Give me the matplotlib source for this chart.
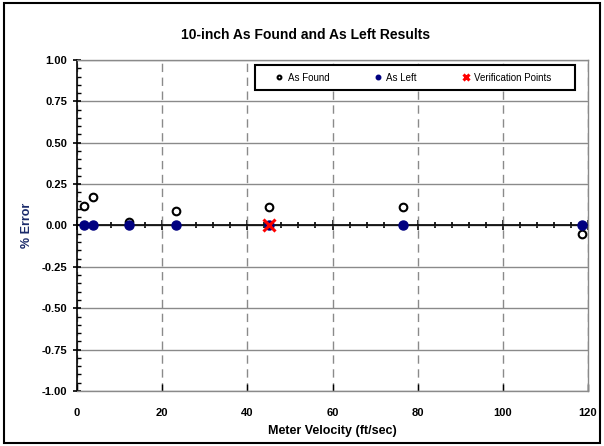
import matplotlib
matplotlib.use("Agg")
import matplotlib.pyplot as plt
from matplotlib.patches import Rectangle
from matplotlib.ticker import MultipleLocator, FormatStrFormatter, NullFormatter

plt.rcParams["font.family"] = ["Liberation Sans", "DejaVu Sans"]

# data
found_x = [1.6, 3.8, 12.3, 23.2, 45.1, 76.6, 118.6]
found_y = [0.12, 0.17, 0.02, 0.09, 0.11, 0.11, -0.05]
left_x = [1.6, 3.8, 12.3, 23.2, 45.1, 76.6, 118.6]
left_y = [0.0, 0.0, 0.0, 0.0, 0.0, 0.0, 0.0]
verif_x = [45.1]
verif_y = [0.0]

fig = plt.figure(figsize=(6.04, 4.46), dpi=100)
ax = fig.add_axes([0.1275, 0.1233, 0.8460, 0.7422])

# outer border of the chart
fig.patches.append(Rectangle((0.007, 0.007), 0.987, 0.986, transform=fig.transFigure,
                             fill=False, edgecolor="black", linewidth=1.5))

ax.set_xlim(0, 120)
ax.set_ylim(-1, 1)
ax.xaxis.set_major_locator(MultipleLocator(20))
ax.yaxis.set_major_locator(MultipleLocator(0.25))
ax.yaxis.set_minor_locator(MultipleLocator(0.05))
ax.yaxis.set_major_formatter(FormatStrFormatter("%.2f"))

ax.grid(axis="y", which="major", color="#8a8a8a", linewidth=1.0, linestyle="-")
ax.grid(axis="x", which="major", color="#8a8a8a", linewidth=1.0, linestyle=(0, (6, 4)))
ax.set_axisbelow(True)

for side in ["top", "right", "bottom"]:
    ax.spines[side].set_color("#8a8a8a")
    ax.spines[side].set_linewidth(1.0)
ax.spines["left"].set_color("black")
ax.spines["left"].set_linewidth(1.2)

ax.tick_params(axis="y", which="major", direction="inout", length=6, width=1.2,
               labelsize=8, pad=4)
ax.tick_params(axis="y", which="minor", direction="in", length=3, width=1.0)
ax.tick_params(axis="x", which="major", direction="in", length=5, width=1.0,
               color="black", labelsize=8, pad=12)
for lab in ax.get_xticklabels() + ax.get_yticklabels():
    lab.set_fontweight("bold")

# zero line with its own ticks
ax.axhline(0, color="black", linewidth=1.2, zorder=2)
zero_axis = ax.secondary_xaxis(0.5)
zero_axis.spines["bottom"].set_visible(False)
zero_axis.xaxis.set_major_locator(MultipleLocator(20))
zero_axis.xaxis.set_minor_locator(MultipleLocator(4))
zero_axis.xaxis.set_major_formatter(NullFormatter())
zero_axis.tick_params(which="major", direction="inout", length=7, width=1.2)
zero_axis.tick_params(which="minor", direction="inout", length=5, width=1.2)

ax.plot(found_x, found_y, linestyle="none", marker="o", markersize=5.5,
        markerfacecolor="none", markeredgecolor="black", markeredgewidth=1.5,
        label="As Found", zorder=3, clip_on=False)
ax.plot(left_x, left_y, linestyle="none", marker="o", markersize=6.5,
        color="#000080", label="As Left", zorder=4, clip_on=False)
ax.plot(verif_x, verif_y, linestyle="none", marker="x", markersize=8,
        markeredgewidth=2.2, color="red", label="Verification Points", zorder=5)

# legend box drawn separately so its size can follow the reference
ax.add_patch(Rectangle((0.348, 0.909), 0.6266, 0.076, transform=ax.transAxes,
                       facecolor="white", edgecolor="black", linewidth=1.5, zorder=6))
leg = ax.legend(loc="center left", bbox_to_anchor=(0.3836, 0.909, 0.545, 0.076),
                mode="expand", ncol=3, fontsize=7, frameon=False, markerscale=0.5,
                handletextpad=0.3, borderpad=0, borderaxespad=0, handlelength=1.2)
leg.set_zorder(7)

ax.set_title("10-inch As Found and As Left Results", fontsize=10, fontweight="bold",
             pad=15, x=0.448)
ax.set_xlabel("Meter Velocity (ft/sec)", fontsize=9, fontweight="bold", labelpad=5)
ax.set_ylabel("% Error", fontsize=9, fontweight="bold", color="#1a2a6a", labelpad=6)

fig.savefig("out.png", dpi=100)
